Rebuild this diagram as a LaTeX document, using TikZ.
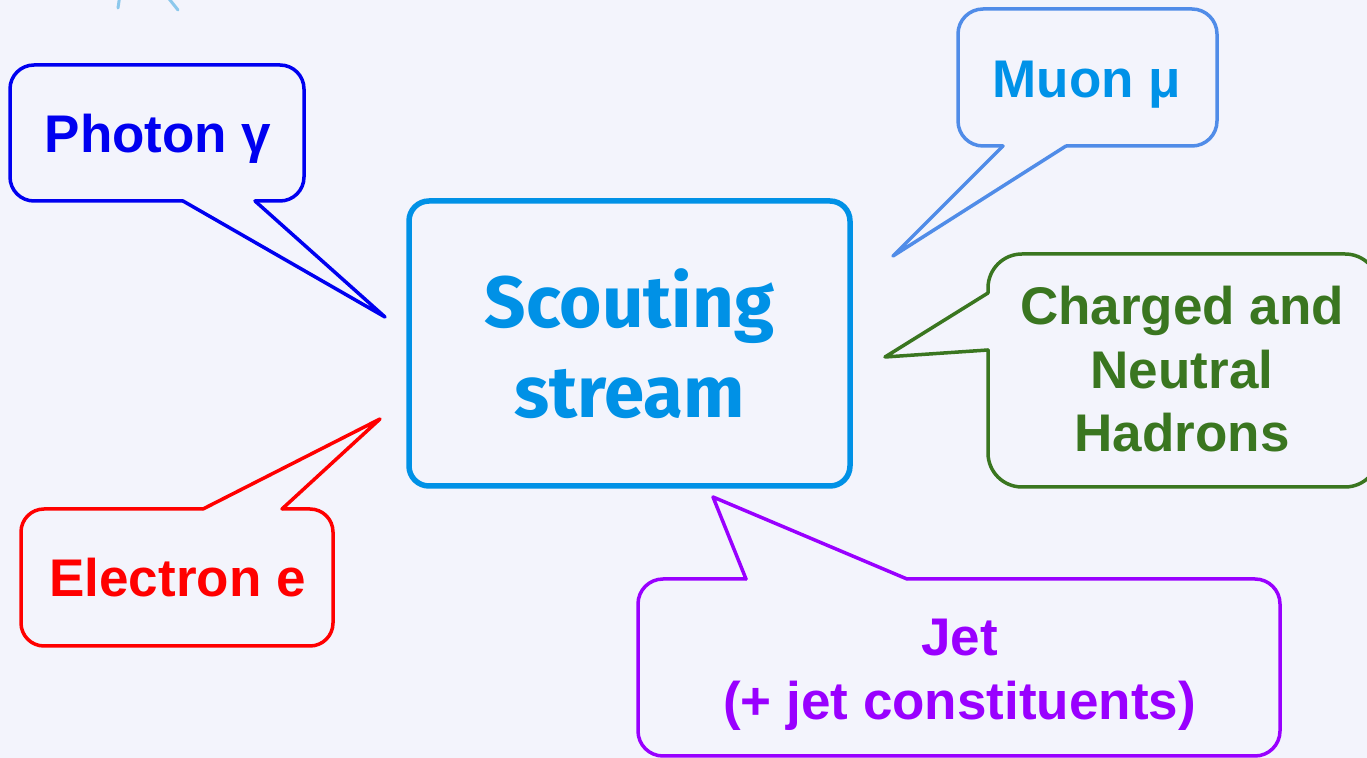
\documentclass[tikz,border=0pt]{standalone}
\usepackage{fontspec}
\setmainfont{Liberation Sans}
\newfontfamily\scoutfont{Fira Sans}
\definecolor{bg}{RGB}{243,244,252}
\definecolor{photonc}{RGB}{0,0,240}
\definecolor{muonline}{RGB}{80,140,232}
\definecolor{muontext}{RGB}{0,146,232}
\definecolor{hadronc}{RGB}{58,118,32}
\definecolor{electronc}{RGB}{255,0,0}
\definecolor{jetc}{RGB}{153,0,255}
\definecolor{scoutc}{RGB}{0,145,230}
\definecolor{sketchc}{RGB}{140,200,236}
\tikzset{
  balloon/.style={line width=1.75pt, line cap=round, line join=round},
  pointer/.style={line width=1.75pt, line cap=round, line join=round},
  label/.style={font=\bfseries\fontsize{26.5}{31.75}\selectfont, inner sep=0pt, align=center},
}
\begin{document}
\begin{tikzpicture}[x=0.5pt,y=-0.5pt]
\useasboundingbox (0,0) rectangle (1367,758);
\clip (0,0) rectangle (1367,758);
\fill[bg] (0,0) rectangle (1367,758);

% partial strokes entering from the top edge
\draw[sketchc, line width=1.5pt, line cap=round] (121,-12) -- (118,8);
\draw[sketchc, line width=1.5pt, line cap=round] (162,-10) -- (178,10);

% central box
\node[draw=scoutc, line width=2.75pt, rounded corners=10pt,
      minimum width=220.5pt, minimum height=142.5pt, inner sep=0pt,
      text=scoutc, align=center,
      font=\scoutfont\bfseries\fontsize{36.3}{45}\selectfont]
  (scout) at (629.5,343.5) {Scouting\\stream};

% photon balloon
\coordinate (photontip) at (385,317);
\draw[balloon, photonc, rounded corners=12pt]
  (255,201) -- (304,201) -- (304,65) -- (10,65) -- (10,201) -- (183,201);
\draw[pointer, photonc] (183,201) -- (photontip) -- (255,201);
\node[label, text=photonc, anchor=base] (photon) at (158,153) {Photon γ};

% muon balloon
\coordinate (muontip) at (893,256);
\draw[balloon, muonline, rounded corners=12.5pt]
  (1066,146) -- (1217,146) -- (1217,9) -- (958,9) -- (958,146) -- (1003,146);
\draw[pointer, muonline] (1003,146) -- (muontip) -- (1066,146);
\node[label, text=muontext, anchor=base] (muon) at (1087,98) {Muon μ};

% hadron balloon
\coordinate (hadrontip) at (885,357);
\draw[balloon, hadronc, rounded corners=17pt]
  (988,350) -- (988,487) -- (1379,487) -- (1379,254) -- (988,254) -- (988,293);
\draw[pointer, hadronc] (988,293) -- (hadrontip) -- (988,350);
\node[label, text=hadronc] (hadron) at (1182,369.5) {Charged and\\Neutral\\Hadrons};

% electron balloon
\coordinate (electrontip) at (380,419);
\draw[balloon, electronc, rounded corners=11.5pt]
  (203,509) -- (21,509) -- (21,646) -- (333,646) -- (333,509) -- (282,509);
\draw[pointer, electronc] (282,509) -- (electrontip) -- (203,509);
\node[label, text=electronc, anchor=base] (electron) at (177.5,597) {Electron e};

% jet balloon
\coordinate (jettip) at (713,497);
\draw[balloon, jetc, rounded corners=12.5pt]
  (907,579) -- (1280,579) -- (1280,756) -- (638,756) -- (638,579) -- (746,579);
\draw[pointer, jetc] (746,579) -- (jettip) -- (907,579);
\node[label, text=jetc] (jet) at (959.5,675) {Jet\\(+ jet constituents)};
\end{tikzpicture}
\end{document}
